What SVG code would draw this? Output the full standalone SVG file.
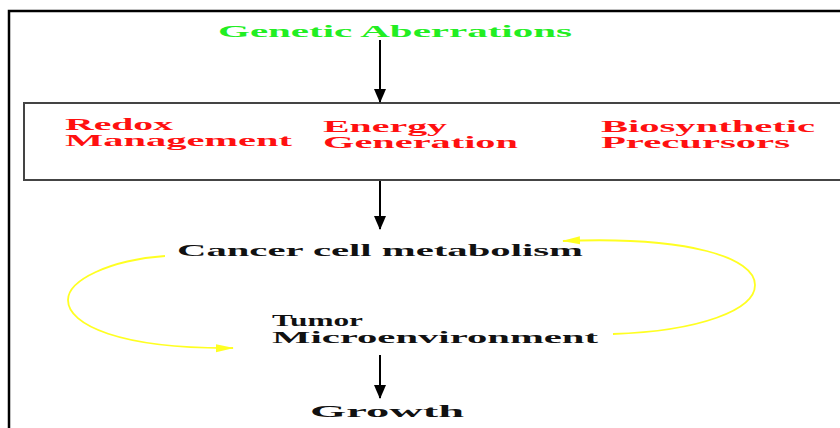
<svg xmlns="http://www.w3.org/2000/svg" width="840" height="428" viewBox="0 0 840 428">
<defs>
<style>
text{font-family:"Liberation Serif","Times New Roman",serif;font-weight:bold;font-size:16px}
.g{fill:#22ee22}.r{fill:#ff1010}.k{fill:#111}
.ar{stroke:#000;stroke-width:2;fill:none}
.cy{stroke:#ffff22;stroke-width:1.8;fill:none}
</style>
<marker id="ah" markerWidth="14" markerHeight="12" refX="13" refY="6" orient="auto" markerUnits="userSpaceOnUse"><path d="M0,0 L14,6 L0,12 Z" fill="#000"/></marker>
<marker id="ay" markerWidth="18" markerHeight="10" refX="17" refY="5" orient="auto" markerUnits="userSpaceOnUse"><path d="M0,1 L18,5 L0,9 Z" fill="#ffff22"/></marker>
</defs>
<rect x="0" y="0" width="840" height="428" fill="#fff"/>
<path d="M9,428 V11 H840" stroke="#000" stroke-width="2.5" fill="none"/>
<g id="genetic"><text class="g" x="218" y="37" textLength="354" lengthAdjust="spacingAndGlyphs">Genetic Aberrations</text></g>
<g id="box">
<rect x="24" y="103" width="830" height="77" fill="#fff" stroke="#444" stroke-width="2"/>
<text class="r" x="65" y="130" textLength="108" lengthAdjust="spacingAndGlyphs">Redox</text>
<text class="r" x="65" y="146" textLength="227" lengthAdjust="spacingAndGlyphs">Management</text>
<text class="r" x="323" y="132" textLength="124" lengthAdjust="spacingAndGlyphs">Energy</text>
<text class="r" x="323" y="148" textLength="195" lengthAdjust="spacingAndGlyphs">Generation</text>
<text class="r" x="601" y="132" textLength="214" lengthAdjust="spacingAndGlyphs">Biosynthetic</text>
<text class="r" x="601" y="148" textLength="189" lengthAdjust="spacingAndGlyphs">Precursors</text>
</g>
<g id="metabolism"><text class="k" x="177" y="256" textLength="406" lengthAdjust="spacingAndGlyphs">Cancer cell metabolism</text></g>
<g id="tumor">
<text class="k" x="272" y="326" textLength="91" lengthAdjust="spacingAndGlyphs">Tumor</text>
<text class="k" x="272" y="343" textLength="326" lengthAdjust="spacingAndGlyphs">Microenvironment</text>
</g>
<g id="growth"><text class="k" x="310" y="417" textLength="154" lengthAdjust="spacingAndGlyphs">Growth</text></g>
<g id="connectors">
<line class="ar" x1="380" y1="40" x2="380" y2="102" marker-end="url(#ah)"/>
<line class="ar" x1="380" y1="181" x2="380" y2="229" marker-end="url(#ah)"/>
<line class="ar" x1="380" y1="355" x2="380" y2="398" marker-end="url(#ah)"/>
<path class="cy" d="M165,256 C110,260 68,280 68,300 C68,325 120,349 233,348" marker-end="url(#ay)"/>
<path class="cy" d="M613,334 C700,331 755,310 755,285 C755,258 690,236 563,241" marker-end="url(#ay)"/>
</g>
</svg>
